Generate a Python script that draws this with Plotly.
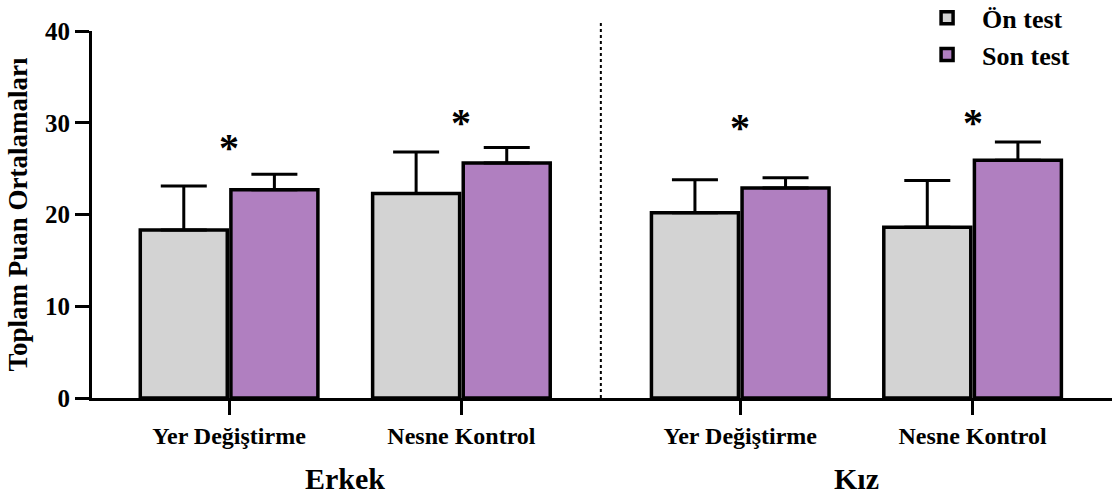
import plotly.graph_objects as go

categories = ["Yer Değiştirme", "Nesne Kontrol", "Yer Değiştirme", "Nesne Kontrol"]
groups = ["Erkek", "Kız"]
cat_pos = [0, 1, 2.2, 3.2]
group_pos = [0.5, 2.7]
divider_pos = 1.6

on_test = [18.3, 22.3, 20.2, 18.6]
on_err = [4.8, 4.5, 3.6, 5.1]
son_test = [22.7, 25.6, 22.9, 25.9]
son_err = [1.7, 1.7, 1.1, 2.0]
star_y = [27.8, 30.6, 30.0, 30.6]

FONT = "Liberation Serif"
GRAY = "#D3D3D3"
PURPLE = "#B07FC0"

fig = go.Figure()
for name, vals, errs, col in [("<b>Ön test</b>", on_test, on_err, GRAY),
                              ("<b>Son test</b>", son_test, son_err, PURPLE)]:
    fig.add_trace(go.Bar(
        x=cat_pos, y=vals, name=name,
        marker=dict(color=col, line=dict(color="black", width=3.5)),
        error_y=dict(type="data", array=errs, arrayminus=[0] * len(errs),
                     symmetric=False, color="black", thickness=3, width=23),
    ))

for xp, sy in zip(cat_pos, star_y):
    fig.add_annotation(x=xp, y=sy, text="<b>*</b>", showarrow=False,
                       font=dict(family=FONT, size=40, color="black"),
                       yanchor="middle", yshift=-5)

for gp, g in zip(group_pos, groups):
    fig.add_annotation(x=gp, y=-0.22, yref="paper", text=f"<b>{g}</b>", showarrow=False,
                       font=dict(family=FONT, size=30, color="black"), yanchor="middle")

fig.add_shape(type="line", x0=divider_pos, x1=divider_pos, y0=0, y1=1.03, yref="paper",
              line=dict(color="black", width=2, dash="dot"))

fig.update_layout(
    width=1114, height=499,
    margin=dict(l=92, r=2, t=31, b=101, autoexpand=False),
    paper_bgcolor="white", plot_bgcolor="white",
    barmode="group", bargap=0.22, bargroupgap=0.04,
    font=dict(family=FONT, color="black"),
    showlegend=True,
    legend=dict(x=0.804, xanchor="left", y=1.1, yanchor="top",
                font=dict(family=FONT, size=26, color="black"),
                bgcolor="rgba(0,0,0,0)", tracegroupgap=0, itemwidth=60),
    xaxis=dict(range=[-0.59, 3.8], tickvals=cat_pos,
               ticktext=[f"<b>{c}</b>" for c in categories],
               tickfont=dict(family=FONT, size=24, color="black"),
               showline=True, linecolor="black", linewidth=3,
               ticks="outside", ticklen=14, tickwidth=3, tickcolor="black",
               showgrid=False, zeroline=False, automargin=False),
    yaxis=dict(range=[0, 40], tickvals=[0, 10, 20, 30, 40],
               ticktext=["<b>0</b>", "<b>10</b>", "<b>20</b>", "<b>30</b>", "<b>40</b>"],
               tickfont=dict(family=FONT, size=25, color="black"),
               showline=True, linecolor="black", linewidth=3,
               ticks="outside", ticklen=14, tickwidth=3, tickcolor="black",
               showgrid=False, zeroline=False, automargin=False,
               title=dict(text="<b>Toplam Puan Ortalamaları</b>",
                          font=dict(family=FONT, size=27, color="black"), standoff=10)),
)

fig.write_html("out.html", config={"displayModeBar": False},
               post_script="document.body.style.margin='0';document.body.style.overflow='hidden';")
